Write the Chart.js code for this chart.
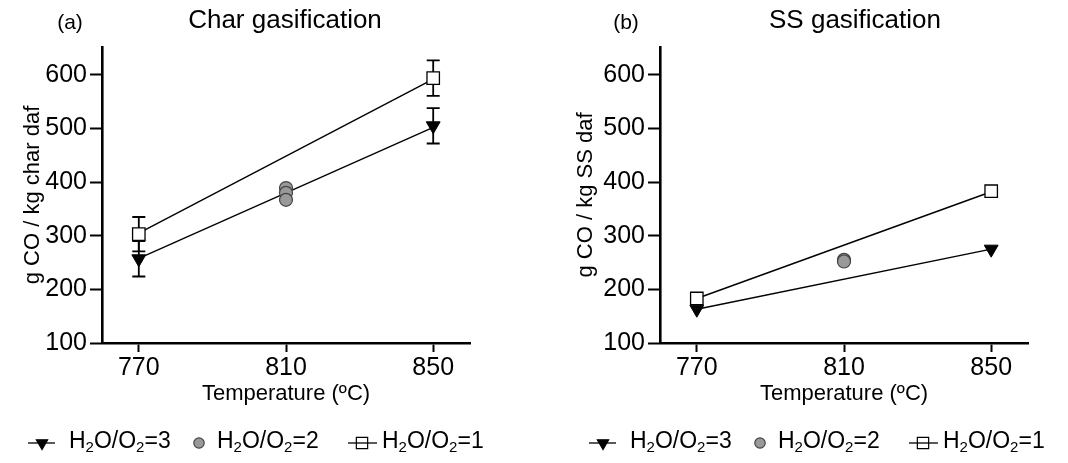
<!DOCTYPE html>
<html>
<head>
<meta charset="utf-8">
<script src="https://cdn.jsdelivr.net/npm/chart.js@4.4.0/dist/chart.umd.min.js"></script>
<style>
body { margin: 0; background: #fff; }
#wrap { position: relative; width: 1068px; height: 463px; }
canvas { position: absolute; top: 0; }
#chartA { left: 0; }
#chartB { left: 534px; }
</style>
</head>
<body>
<div id="wrap">
<canvas id="chartA" width="534" height="463"></canvas>
<canvas id="chartB" width="534" height="463"></canvas>
</div>
<script>
// Temperaturen und Achsenbeschriftung
var temperaturen = [770, 810, 850];
var tempEnden = [770, 850];
var yTicks = [100, 200, 300, 400, 500, 600];

// (a) Char gasification
var charR3 = [257, 505];
var charR3Err = [33, 33];
var charR2 = [389, 380, 367];
var charR1 = [303, 594];
var charR1Err = [32, 33];
var charFitR3 = [258, 502];
var charFitR1 = [305, 592];

// (b) SS gasification
var ssR3 = [163, 275];
var ssR2 = [255, 252];
var ssR1 = [183, 383];
var ssFitR3 = [163, 275];
var ssFitR1 = [183, 382];

var schrift = "'Liberation Sans', Arial, sans-serif";

function punkte(xs, ys) {
    return ys.map(function(y, i) {
        return { x: xs.length === 1 ? xs[0] : xs[i], y: y };
    });
}

// Fehlerbalken unter die Punkte zeichnen
var fehlerbalken = {
    id: 'fehlerbalken',
    beforeDatasetsDraw: function(chart) {
        var ctx = chart.ctx;
        var xs = chart.scales.x, ys = chart.scales.y;
        chart.data.datasets.forEach(function(ds) {
            if (!ds.errors) return;
            ctx.save();
            ctx.strokeStyle = '#000';
            ctx.lineWidth = 1.8;
            ds.data.forEach(function(p, j) {
                var e = ds.errors[j];
                var x = xs.getPixelForValue(p.x);
                var yo = ys.getPixelForValue(p.y + e);
                var yu = ys.getPixelForValue(p.y - e);
                ctx.beginPath();
                ctx.moveTo(x, yo); ctx.lineTo(x, yu);
                ctx.moveTo(x - 6.5, yo); ctx.lineTo(x + 6.5, yo);
                ctx.moveTo(x - 6.5, yu); ctx.lineTo(x + 6.5, yu);
                ctx.stroke();
            });
            ctx.restore();
        });
    }
};

// Titel, Panelbuchstabe und Legende mit Indizes
var beschriftung = {
    id: 'beschriftung',
    afterDraw: function(chart, args, opts) {
        var ctx = chart.ctx;
        ctx.save();
        ctx.fillStyle = '#000';
        ctx.textBaseline = 'alphabetic';
        ctx.textAlign = 'center';
        ctx.font = '26px ' + schrift;
        ctx.fillText(opts.titel, opts.titelX, 28);
        ctx.font = '21px ' + schrift;
        ctx.fillText(opts.panel, opts.panelX, 29);

        ctx.textAlign = 'left';
        var ly = 443;
        opts.eintraege.forEach(function(it) {
            ctx.fillStyle = it.fuellung;
            ctx.strokeStyle = it.rand;
            ctx.lineWidth = 1.2;
            Chart.helpers.drawPoint(ctx, {
                pointStyle: it.stil, rotation: it.drehung || 0,
                radius: it.radius, borderWidth: 1.2
            }, it.sx, ly);
            if (it.linie) {
                ctx.strokeStyle = '#000';
                ctx.lineWidth = 1.3;
                ctx.beginPath();
                ctx.moveTo(it.linie[0], ly);
                ctx.lineTo(it.linie[1], ly);
                ctx.stroke();
            }
            ctx.fillStyle = '#000';
            var x = it.tx;
            [['H', 0], ['2', 1], ['O/O', 0], ['2', 1], ['=' + it.wert, 0]].forEach(function(teil) {
                ctx.font = (teil[1] ? '15px ' : '23px ') + schrift;
                ctx.fillText(teil[0], x, teil[1] ? 452 : 448);
                x += ctx.measureText(teil[0]).width;
            });
        });
        ctx.restore();
    }
};

function legende(off) {
    return [
        { stil: 'triangle', drehung: 180, radius: 6.5, fuellung: '#000', rand: '#000', linie: [28 + off, 55 + off], sx: 42 + off, tx: 69 + off, wert: '3' },
        { stil: 'circle', radius: 5.2, fuellung: '#999', rand: '#444', sx: 199 + off, tx: 217 + off, wert: '2' },
        { stil: 'rect', radius: 8, fuellung: '#fff', rand: '#000', linie: [348 + off, 377 + off], sx: 362 + off, tx: 382 + off, wert: '1' }
    ];
}

function diagramm(id, d) {
    var ctx = document.getElementById(id).getContext('2d');
    return new Chart(ctx, {
        type: 'scatter',
        data: {
            datasets: [{
                data: punkte(tempEnden, d.r3),
                errors: d.r3Err,
                pointStyle: 'triangle', pointRotation: 180, pointRadius: 8,
                backgroundColor: '#000', borderColor: '#000', borderWidth: 1
            }, {
                data: punkte([810], d.r2),
                pointStyle: 'circle', pointRadius: 6.5,
                backgroundColor: '#999', borderColor: '#444', borderWidth: 1.2
            }, {
                data: punkte(tempEnden, d.r1),
                errors: d.r1Err,
                pointStyle: 'rect', pointRadius: 8.8,
                backgroundColor: '#fff', borderColor: '#000', borderWidth: 1.3
            }, {
                data: punkte(tempEnden, d.fit3),
                showLine: true, pointRadius: 0, borderColor: '#000', borderWidth: 1.4
            }, {
                data: punkte(tempEnden, d.fit1),
                showLine: true, pointRadius: 0, borderColor: '#000', borderWidth: 1.4
            }]
        },
        options: {
            responsive: false,
            animation: false,
            layout: { padding: { left: 0, top: 47, right: d.rechts, bottom: 50 } },
            plugins: {
                legend: { display: false },
                tooltip: { enabled: false },
                beschriftung: { titel: d.titel, titelX: d.titelX, panel: d.panel, panelX: d.panelX, eintraege: legende(d.legOff) }
            },
            scales: {
                x: {
                    type: 'linear', min: 760, max: 860,
                    afterBuildTicks: function(s) { s.ticks = temperaturen.map(function(v) { return { value: v }; }); },
                    afterFit: function(s) { s.height = 70; },
                    grid: { drawOnChartArea: false, tickLength: 9, tickColor: '#000', tickWidth: 2 },
                    border: { color: '#000', width: 2.6 },
                    ticks: { color: '#000', font: { size: 25, family: schrift }, padding: 1, maxRotation: 0,
                        callback: function(v) { return String(v); } },
                    title: { display: true, text: 'Temperature (ºC)', color: '#000',
                        font: { size: 22, family: schrift }, padding: { top: 0, bottom: 6 } }
                },
                y: {
                    type: 'linear', min: 100, max: 652,
                    afterBuildTicks: function(s) { s.ticks = yTicks.map(function(v) { return { value: v }; }); },
                    afterFit: function(s) { s.width = d.yBreite; },
                    grid: { drawOnChartArea: false, tickLength: 12, tickColor: '#000', tickWidth: 2 },
                    border: { color: '#000', width: 2.6 },
                    ticks: { color: '#000', font: { size: 25, family: schrift }, padding: 3 },
                    title: { display: true, text: d.yTitel, color: '#000',
                        font: { size: 22, family: schrift }, padding: { top: d.yTitelPad, bottom: 0 } }
                }
            }
        },
        plugins: [fehlerbalken, beschriftung]
    });
}

var charChart = diagramm('chartA', {
    r3: charR3, r3Err: charR3Err, r2: charR2, r1: charR1, r1Err: charR1Err,
    fit3: charFitR3, fit1: charFitR1,
    titel: 'Char gasification', titelX: 285, panel: '(a)', panelX: 70,
    yTitel: 'g CO / kg char daf', yBreite: 102, yTitelPad: 20, rechts: 64, legOff: 0
});

var ssChart = diagramm('chartB', {
    r3: ssR3, r2: ssR2, r1: ssR1,
    fit3: ssFitR3, fit1: ssFitR1,
    titel: 'SS gasification', titelX: 321, panel: '(b)', panelX: 92,
    yTitel: 'g CO / kg SS daf', yBreite: 126, yTitelPad: 39, rechts: 40, legOff: 27
});
</script>
</body>
</html>
